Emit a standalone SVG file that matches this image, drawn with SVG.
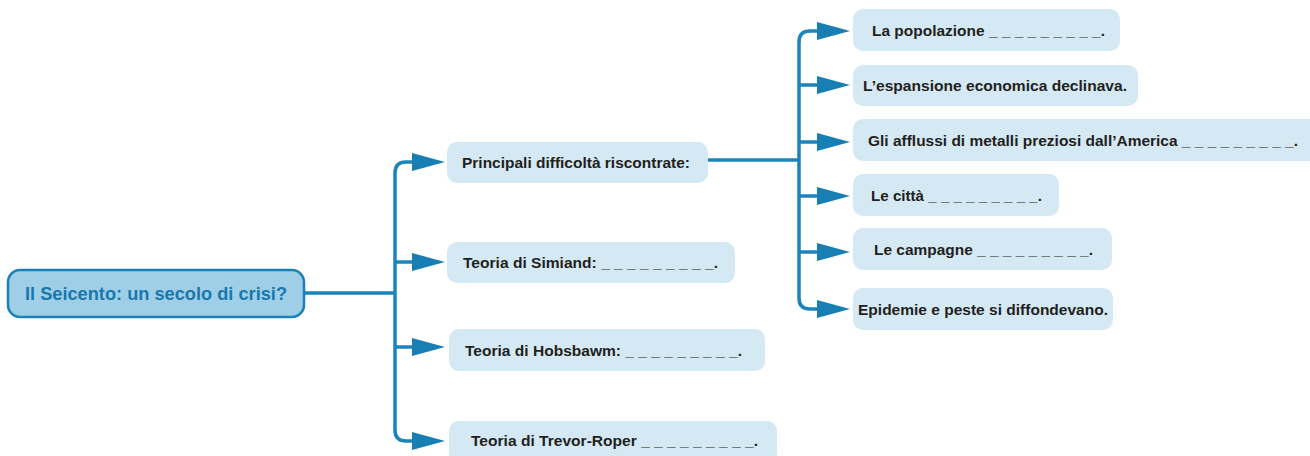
<svg xmlns="http://www.w3.org/2000/svg" width="1310" height="456" viewBox="0 0 1310 456">
<style>
.box{fill:#d4e9f4}
.t{font-family:"Liberation Sans",Arial,sans-serif;font-weight:bold;font-size:15.5px;fill:#231f20}
.root{fill:#9fcfe7;stroke:#1a80b8;stroke-width:2.5}
.rt{font-family:"Liberation Sans",Arial,sans-serif;font-weight:bold;font-size:19px;fill:#1878ae}
.ln{fill:none;stroke:#1b84bb;stroke-width:3.5}
.ah{fill:#177fb4}
</style>
<rect width="1310" height="456" fill="#ffffff"/>
<g id="connectors">
<path class="ln" d="M304,293 H395"/>
<path class="ln" d="M414,162 H406 Q395,162 395,173 V430 Q395,441 406,441 H414"/>
<path class="ln" d="M395,262 H414 M395,347 H414"/>
<polygon class="ah" points="412,153 445,162 412,171"/>
<polygon class="ah" points="412,253 445,262 412,271"/>
<polygon class="ah" points="412,338 445,347 412,356"/>
<polygon class="ah" points="412,432 445,441 412,450"/>
<path class="ln" d="M708,160 H799"/>
<path class="ln" d="M819,31 H810 Q799,31 799,42 V298 Q799,309 810,309 H819"/>
<path class="ln" d="M799,85 H819 M799,142 H819 M799,196 H819 M799,252 H819"/>
<polygon class="ah" points="817,22 850,31 817,40"/>
<polygon class="ah" points="817,76 850,85 817,94"/>
<polygon class="ah" points="817,133 850,142 817,151"/>
<polygon class="ah" points="817,187 850,196 817,205"/>
<polygon class="ah" points="817,243 850,252 817,261"/>
<polygon class="ah" points="817,300 850,309 817,318"/>
</g>
<g id="root">
<rect class="root" x="8" y="270" width="296" height="47" rx="12"/>
<text class="rt" x="25" y="300" textLength="262" lengthAdjust="spacingAndGlyphs">Il Seicento: un secolo di crisi?</text>
</g>
<g id="principali">
<rect class="box" x="447" y="142" width="261" height="41" rx="10"/>
<text class="t" x="462" y="168" textLength="228" lengthAdjust="spacingAndGlyphs">Principali difficoltà riscontrate:</text>
</g>
<g id="simiand">
<rect class="box" x="447" y="242" width="288" height="41" rx="10"/>
<text class="t" x="463" y="268" textLength="255" lengthAdjust="spacingAndGlyphs">Teoria di Simiand: _ _ _ _ _ _ _ _ _.</text>
</g>
<g id="hobsbawm">
<rect class="box" x="449" y="329" width="316" height="42" rx="10"/>
<text class="t" x="465" y="356" textLength="277" lengthAdjust="spacingAndGlyphs">Teoria di Hobsbawm: _ _ _ _ _ _ _ _ _.</text>
</g>
<g id="trevor">
<rect class="box" x="449" y="421" width="328" height="42" rx="10"/>
<text class="t" x="471" y="446" textLength="287" lengthAdjust="spacingAndGlyphs">Teoria di Trevor-Roper _ _ _ _ _ _ _ _ _.</text>
</g>
<g id="popolazione">
<rect class="box" x="853" y="9" width="267" height="42" rx="10"/>
<text class="t" x="872" y="36" textLength="233" lengthAdjust="spacingAndGlyphs">La popolazione _ _ _ _ _ _ _ _ _.</text>
</g>
<g id="espansione">
<rect class="box" x="853" y="65" width="285" height="41" rx="10"/>
<text class="t" x="863" y="91" textLength="264" lengthAdjust="spacingAndGlyphs">L’espansione economica declinava.</text>
</g>
<g id="afflussi">
<rect class="box" x="853" y="119" width="470" height="42" rx="10"/>
<text class="t" x="868" y="146" textLength="430" lengthAdjust="spacingAndGlyphs">Gli afflussi di metalli preziosi dall’America _ _ _ _ _ _ _ _ _.</text>
</g>
<g id="citta">
<rect class="box" x="853" y="174" width="206" height="42" rx="10"/>
<text class="t" x="871" y="201" textLength="171" lengthAdjust="spacingAndGlyphs">Le città _ _ _ _ _ _ _ _ _.</text>
</g>
<g id="campagne">
<rect class="box" x="853" y="228" width="259" height="42" rx="10"/>
<text class="t" x="874" y="255" textLength="219" lengthAdjust="spacingAndGlyphs">Le campagne _ _ _ _ _ _ _ _ _.</text>
</g>
<g id="epidemie">
<rect class="box" x="853" y="288" width="260" height="42" rx="10"/>
<text class="t" x="858" y="315" textLength="250" lengthAdjust="spacingAndGlyphs">Epidemie e peste si diffondevano.</text>
</g>
</svg>
